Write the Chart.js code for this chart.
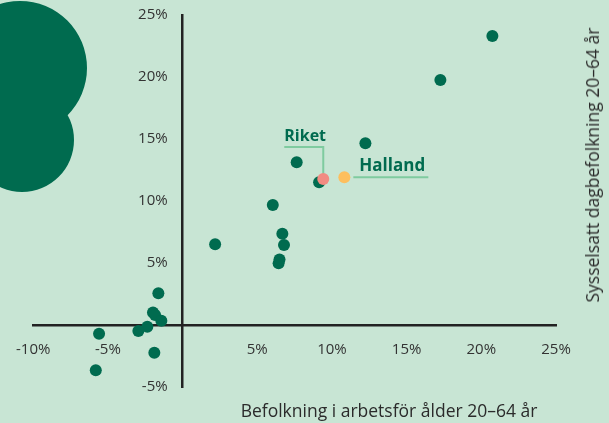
<!DOCTYPE html>
<html lang="sv">
<head>
<meta charset="utf-8">
<title>Sysselsatt dagbefolkning och befolkning 20–64 år</title>
<script src="https://cdn.jsdelivr.net/npm/chart.js@4/dist/chart.umd.min.js"></script>
<style>
    html, body { margin: 0; padding: 0; background: #c8e5d4; }
    #wrap { position: relative; width: 609px; height: 423px; overflow: hidden; }
    #chart { position: absolute; left: 0; top: 0; }
    .axis-title {
        position: absolute;
        font-family: "Open Sans", sans-serif;
        font-size: 17.5px;
        color: #2b2b2b;
        white-space: nowrap;
        transform: translate(-50%, -50%);
    }
    #xTitle { left: 389px; top: 410px; }
    #yTitle { left: 592px; top: 165px; transform: translate(-50%, -50%) rotate(-90deg); }
</style>
</head>
<body>
<div id="wrap">
    <canvas id="chart" width="609" height="423"></canvas>
    <div class="axis-title" id="xTitle">Befolkning i arbetsför ålder 20–64 år</div>
    <div class="axis-title" id="yTitle">Sysselsatt dagbefolkning 20–64 år</div>
</div>
<script>
"use strict";

// change in working-age population (x) and daytime employed population (y), %
const countyX = [20.74, 17.26, 12.24, 7.64, 9.14, 6.04, 2.18, 6.68, 6.79, 6.43, 6.49,
    -1.62, -1.98, -1.84, -1.42, -2.36, -2.96, -5.59, -1.89, -5.81];
const countyY = [23.31, 19.76, 14.65, 13.12, 11.51, 9.68, 6.51, 7.36, 6.45, 4.97, 5.28,
    2.56, 1.00, 0.80, 0.35, -0.14, -0.48, -0.70, -2.23, -3.65];
const riket = [9.42, 11.77];
const halland = [10.83, 11.91];

const xRange = [-10, 25];
const yRange = [-5, 25];
const tickStep = 5;

const green = '#006b4f';
const tickFont = { family: '"Open Sans", sans-serif', size: 15 };
const pct = (v) => v === 0 ? '' : v + '%';

const decor = {
    id: 'decor',
    beforeDraw(chart) {
        const ctx = chart.ctx;
        ctx.save();
        ctx.fillStyle = '#c8e5d4';
        ctx.fillRect(0, 0, chart.width, chart.height);
        ctx.fillStyle = green;
        ctx.beginPath();
        ctx.arc(20, 68, 67, 0, Math.PI * 2);
        ctx.arc(22, 140, 52, 0, Math.PI * 2);
        ctx.fill();
        ctx.restore();
    }
};

const callouts = {
    id: 'callouts',
    beforeDatasetsDraw(chart) {
        const { ctx, scales: { x, y } } = chart;
        const rx = x.getPixelForValue(riket[0]), ry = y.getPixelForValue(riket[1]);
        const hx = x.getPixelForValue(halland[0]), hy = y.getPixelForValue(halland[1]);
        ctx.save();
        ctx.strokeStyle = '#7fcb9f';
        ctx.lineWidth = 2;
        ctx.beginPath();
        ctx.moveTo(rx, ry - 4);
        ctx.lineTo(rx, ry - 32);
        ctx.lineTo(rx - 39, ry - 32);
        ctx.moveTo(hx + 9, hy);
        ctx.lineTo(hx + 84, hy);
        ctx.stroke();
        ctx.restore();
    },
    afterDatasetsDraw(chart) {
        const { ctx, scales: { x, y } } = chart;
        const rx = x.getPixelForValue(riket[0]), ry = y.getPixelForValue(riket[1]);
        const hx = x.getPixelForValue(halland[0]), hy = y.getPixelForValue(halland[1]);
        ctx.save();
        ctx.fillStyle = green;
        ctx.font = 'bold 16px "Open Sans", sans-serif';
        ctx.textAlign = 'left';
        ctx.textBaseline = 'alphabetic';
        ctx.fillText('Riket', rx - 39, ry - 38);
        ctx.font = 'bold 17px "Open Sans", sans-serif';
        ctx.fillText('Halland', hx + 15, hy - 6);
        ctx.restore();
    }
};

document.addEventListener('DOMContentLoaded', () => {
    const points = countyX.map((v, i) => ({ x: v, y: countyY[i] }));

    new Chart(document.getElementById('chart'), {
        type: 'scatter',
        data: {
            datasets: [
                {
                    label: 'Riket',
                    data: [{ x: riket[0], y: riket[1] }],
                    backgroundColor: '#f28b82'
                },
                {
                    label: 'Halland',
                    data: [{ x: halland[0], y: halland[1] }],
                    backgroundColor: '#fdbf5e'
                },
                {
                    label: 'Län',
                    data: points,
                    backgroundColor: green
                }
            ]
        },
        options: {
            responsive: false,
            animation: false,
            events: [],
            layout: { padding: { left: 33, right: 53, top: 15, bottom: 36 } },
            plugins: {
                legend: { display: false },
                tooltip: { enabled: false }
            },
            elements: {
                point: { radius: 6, hoverRadius: 6, borderWidth: 0 }
            },
            scales: {
                x: {
                    type: 'linear',
                    min: xRange[0],
                    max: xRange[1],
                    position: { y: 0 },
                    grid: { display: false, drawTicks: false },
                    border: { display: true, color: '#222', width: 2.5 },
                    ticks: {
                        stepSize: tickStep,
                        padding: 16,
                        color: '#333',
                        font: tickFont,
                        maxRotation: 0,
                        callback: pct
                    }
                },
                y: {
                    type: 'linear',
                    min: yRange[0],
                    max: yRange[1],
                    position: { x: 0 },
                    grid: { display: false, drawTicks: false },
                    border: { display: true, color: '#222', width: 2.5 },
                    ticks: { display: false, stepSize: tickStep }
                },
                // tick labels only, set a little left of the y axis line
                yLabels: {
                    axis: 'y',
                    type: 'linear',
                    min: yRange[0],
                    max: yRange[1],
                    position: { x: -1 },
                    grid: { display: false, drawTicks: false },
                    border: { display: false },
                    ticks: {
                        stepSize: tickStep,
                        color: '#333',
                        font: tickFont,
                        callback: pct
                    }
                }
            }
        },
        plugins: [decor, callouts]
    });
});
</script>
</body>
</html>
